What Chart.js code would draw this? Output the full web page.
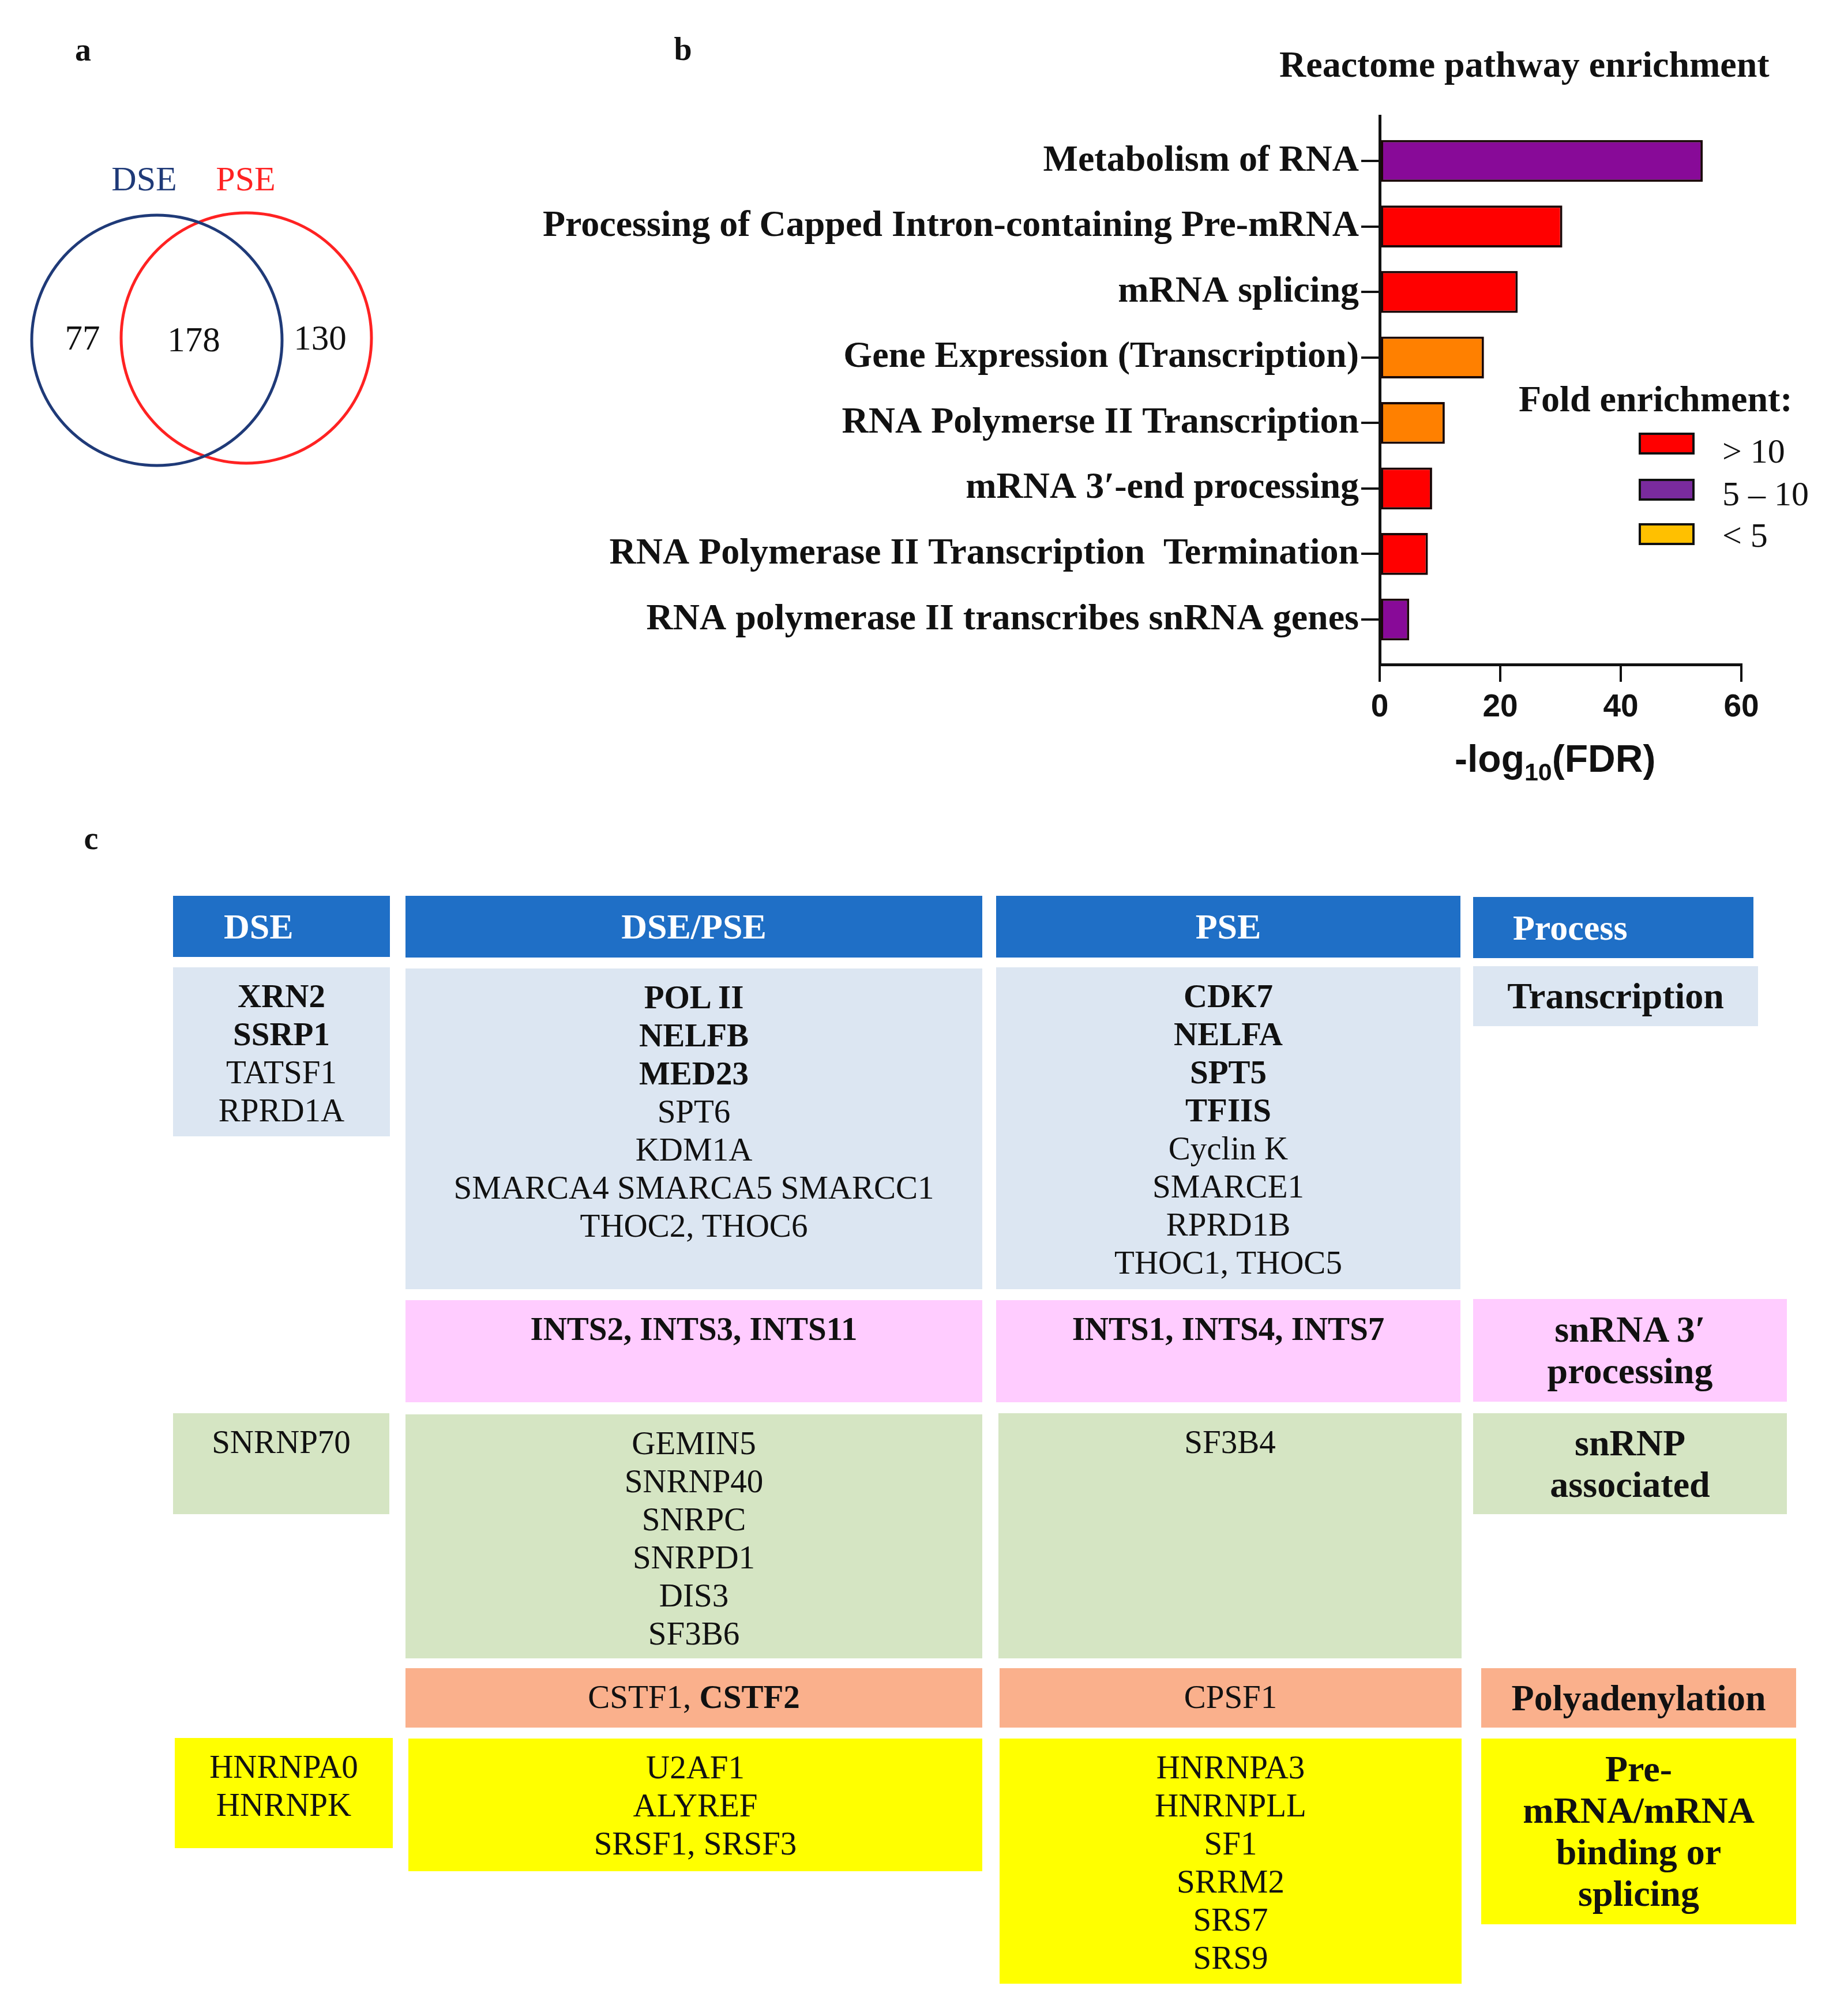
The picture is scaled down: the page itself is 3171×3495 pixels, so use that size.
<!DOCTYPE html>
<html><head><meta charset="utf-8">
<script src="https://cdn.jsdelivr.net/npm/chart.js@4.4.1/dist/chart.umd.min.js"></script>
<style>
html,body{margin:0;padding:0;background:#fff;}
body{width:3171px;height:3495px;position:relative;overflow:hidden;font-family:'Liberation Serif',serif;color:#111;}
.t{position:absolute;white-space:nowrap;line-height:1;}
.c{transform:translate(-50%,-50%);}
.l{transform:translate(0,-50%);}
.cell{position:absolute;box-sizing:border-box;text-align:center;font-size:57px;line-height:66px;padding-top:17px;white-space:nowrap;color:#111;}
.proc{position:absolute;box-sizing:border-box;display:flex;flex-direction:column;align-items:center;justify-content:center;font-weight:bold;font-size:64px;line-height:72px;white-space:nowrap;color:#111;}
.head{position:absolute;box-sizing:border-box;display:flex;align-items:center;font-weight:bold;font-size:62px;color:#fff;background:#1f6fc6;}
canvas{position:absolute;}
</style></head><body>
<div id="root"></div>
<script>
// ---------------- data ----------------
const vennSets = ['DSE', 'PSE'];
const vennCounts = [77, 178, 130]; // DSE only, shared, PSE only

const pathways = [
  'Metabolism of RNA',
  'Processing of Capped Intron-containing Pre-mRNA',
  'mRNA splicing',
  'Gene Expression (Transcription)',
  'RNA Polymerse II Transcription',
  'mRNA 3\u2032-end processing',
  'RNA Polymerase II Transcription  Termination',
  'RNA polymerase II transcribes snRNA genes'
];
const minusLog10FDR = [53.6, 30.3, 22.9, 17.3, 10.8, 8.7, 8.0, 4.9];
const foldClass = ['5-10', '>10', '>10', '<5', '<5', '>10', '>10', '5-10'];
const xTickValues = [0, 20, 40, 60];
const legendClasses = ['>10', '5-10', '<5'];
const legendLabels = ['> 10', '5 \u2013 10', '< 5'];

const tableHeaders = ['DSE', 'DSE/PSE', 'PSE', 'Process'];
const processes = ['Transcription', 'snRNA 3\u2032\nprocessing', 'snRNP\nassociated', 'Polyadenylation', 'Pre-\nmRNA/mRNA\nbinding or\nsplicing'];
const dseGenes = [['*XRN2*', '*SSRP1*', 'TATSF1', 'RPRD1A'], null, ['SNRNP70'], null, ['HNRNPA0', 'HNRNPK']];
const sharedGenes = [
  ['*POL II*', '*NELFB*', '*MED23*', 'SPT6', 'KDM1A', 'SMARCA4 SMARCA5 SMARCC1', 'THOC2, THOC6'],
  ['*INTS2, INTS3, INTS11*'],
  ['GEMIN5', 'SNRNP40', 'SNRPC', 'SNRPD1', 'DIS3', 'SF3B6'],
  ['CSTF1, *CSTF2*'],
  ['U2AF1', 'ALYREF', 'SRSF1, SRSF3']
];
const pseGenes = [
  ['*CDK7*', '*NELFA*', '*SPT5*', '*TFIIS*', 'Cyclin K', 'SMARCE1', 'RPRD1B', 'THOC1, THOC5'],
  ['*INTS1, INTS4, INTS7*'],
  ['SF3B4'],
  ['CPSF1'],
  ['HNRNPA3', 'HNRNPLL', 'SF1', 'SRRM2', 'SRS7', 'SRS9']
];

// ---------------- styles / layout ----------------
const barColors = {'>10': '#ff0000', '5-10': '#880a98', '<5': '#ff8000'};
const legendColors = {'>10': '#ff0000', '5-10': '#7a2b9e', '<5': '#ffc000'};
const rowColors = ['#dce6f2', '#ffccff', '#d5e5c3', '#fab08c', '#ffff00'];
const headerBoxes = [[300,1553,376,106],[703,1553,1000,107],[1727,1553,805,107],[2554,1555,486,106]];
const rowBoxes = [
  [[300,1677,376,293],[703,1679,1000,556],[1727,1677,805,558],[2554,1675,494,104]],
  [null,[703,2254,1000,177],[1727,2254,805,177],[2554,2252,544,178]],
  [[300,2450,375,175],[703,2452,1000,423],[1731,2450,803,425],[2554,2450,544,175]],
  [null,[703,2892,1000,103],[1733,2892,801,103],[2568,2892,546,103]],
  [[303,3013,378,191],[708,3014,995,230],[1733,3014,801,425],[2568,3014,546,322]]
];

const root = document.getElementById('root');
function addText(txt, x, y, cls, style) {
  const d = document.createElement('div');
  d.className = 't ' + cls;
  d.textContent = txt;
  d.style.left = x + 'px'; d.style.top = y + 'px';
  Object.assign(d.style, style || {});
  root.appendChild(d);
  return d;
}
const fmt = s => s.replace(/&/g,'&amp;').replace(/</g,'&lt;').replace(/\*(.+?)\*/g, '<b>$1</b>');

// panel letters
addText('a', 144, 86, 'c', {fontWeight:'bold', fontSize:'56px'});
addText('b', 1184, 85, 'c', {fontWeight:'bold', fontSize:'56px'});
addText('c', 158, 1453, 'c', {fontWeight:'bold', fontSize:'56px'});

// ---------------- Venn (Chart.js scatter) ----------------
const vennCanvas = document.createElement('canvas');
vennCanvas.width = 720; vennCanvas.height = 560;
vennCanvas.style.left = '0px'; vennCanvas.style.top = '300px';
root.appendChild(vennCanvas);
const vennCenters = [[272, 290], [427, 286]];
const vennStroke = ['#1f3a78', '#ff2222'];
new Chart(vennCanvas, {
  type: 'scatter',
  data: { datasets: vennSets.map((s, i) => ({
    label: s,
    data: [{x: vennCenters[i][0], y: vennCenters[i][1]}],
    pointRadius: 217, pointHoverRadius: 217,
    pointBackgroundColor: 'rgba(0,0,0,0)',
    pointBorderColor: vennStroke[i], pointBorderWidth: 5,
    clip: false
  }))},
  options: {
    responsive: false, animation: false, devicePixelRatio: 1,
    layout: {padding: 0, autoPadding: false},
    plugins: {legend: {display: false}, tooltip: {enabled: false}},
    scales: {
      x: {type: 'linear', min: 0, max: 720, display: false},
      y: {type: 'linear', min: 0, max: 560, reverse: true, display: false}
    }
  }
});
addText(vennSets[0], 250, 310, 'c', {fontSize:'60px', color:'#1f3a78'});
addText(vennSets[1], 426, 310, 'c', {fontSize:'60px', color:'#ff2222'});
const vennNumPos = [[143, 585], [336, 588], [555, 585]];
vennCounts.forEach((v, i) => addText(String(v), vennNumPos[i][0], vennNumPos[i][1], 'c', {fontSize:'61px'}));

// ---------------- Bar chart ----------------
addText('Reactome pathway enrichment', 2218, 112, 'l', {fontWeight:'bold', fontSize:'64px'});
const barCanvas = document.createElement('canvas');
barCanvas.width = 2271; barCanvas.height = 1300;
barCanvas.style.left = '900px'; barCanvas.style.top = '150px';
root.appendChild(barCanvas);
new Chart(barCanvas, {
  type: 'bar',
  data: { datasets: [{
    data: minusLog10FDR.map((v, i) => ({x: v, y: i})),
    backgroundColor: foldClass.map(c => barColors[c]),
    borderColor: '#1a0808', borderWidth: 4, borderSkipped: false,
    barPercentage: 0.8, categoryPercentage: 0.8
  }]},
  options: {
    indexAxis: 'y', responsive: false, animation: false, devicePixelRatio: 1,
    layout: {padding: {top: 51, right: 152, left: 0, bottom: 0}, autoPadding: false},
    plugins: {legend: {display: false}, tooltip: {enabled: false}},
    scales: {
      x: {
        type: 'linear', min: 0, max: 60,
        afterBuildTicks: s => { s.ticks = xTickValues.map(v => ({value: v})); },
        afterFit: s => { s.height = 298; s.paddingLeft = 0; s.paddingRight = 0; },
        ticks: {font: {family: 'Liberation Sans', weight: 'bold', size: 55}, color: '#111', padding: 12, maxRotation: 0},
        grid: {display: true, drawOnChartArea: false, drawTicks: true, tickLength: 30, color: '#111', lineWidth: 4},
        border: {display: true, color: '#111', width: 5}
      },
      y: {
        type: 'linear', min: -0.687, max: 7.687, reverse: true, offset: false,
        afterBuildTicks: s => { s.ticks = pathways.map((_, i) => ({value: i})); },
        afterFit: s => { s.width = 1492; s.paddingTop = 0; s.paddingBottom = 0; },
        ticks: {autoSkip: false, callback: v => pathways[v], font: {family: 'Liberation Serif', weight: 'bold', size: 64}, color: '#111', padding: 4},
        grid: {display: true, offset: false, drawOnChartArea: false, drawTicks: true, tickLength: 32, color: '#111', lineWidth: 4},
        border: {display: true, color: '#111', width: 5}
      }
    }
  }
});
// x-axis title with subscript
const xt = addText('', 2522, 1315, 'l', {fontFamily:'Liberation Sans', fontWeight:'bold', fontSize:'66px'});
xt.innerHTML = '-log<sub style="font-size:43px;vertical-align:-15px;line-height:0">10</sub>(FDR)';

// legend
addText('Fold enrichment:', 2633, 692, 'l', {fontWeight:'bold', fontSize:'64px'});
const legTops = [750, 830, 907];
const legLabelY = [782, 856, 928];
legendClasses.forEach((c, i) => {
  const b = document.createElement('div');
  Object.assign(b.style, {position:'absolute', left:'2841px', top: legTops[i]+'px', width:'97px', height:'38px',
    boxSizing:'border-box', border:'4px solid #111', background: legendColors[c]});
  root.appendChild(b);
  addText(legendLabels[i], 2986, legLabelY[i], 'l', {fontSize:'60px'});
});

// ---------------- Table (panel c) ----------------
headerBoxes.forEach((bx, i) => {
  const d = document.createElement('div');
  d.className = 'head';
  Object.assign(d.style, {left: bx[0]+'px', top: bx[1]+'px', width: bx[2]+'px', height: bx[3]+'px'});
  if (i === 0) d.style.paddingLeft = '88px';
  else if (i === 3) d.style.paddingLeft = '69px';
  else d.style.justifyContent = 'center';
  d.textContent = tableHeaders[i];
  root.appendChild(d);
});
const geneCols = [dseGenes, sharedGenes, pseGenes];
rowBoxes.forEach((row, r) => {
  row.forEach((bx, col) => {
    if (!bx) return;
    const d = document.createElement('div');
    Object.assign(d.style, {left: bx[0]+'px', top: bx[1]+'px', width: bx[2]+'px', height: bx[3]+'px', background: rowColors[r]});
    if (col < 3) {
      d.className = 'cell';
      const lines = geneCols[col][r] || [];
      d.innerHTML = lines.map(fmt).join('<br>');
    } else {
      d.className = 'proc';
      processes[r].split('\n').forEach(line => {
        const s = document.createElement('div'); s.textContent = line; d.appendChild(s);
      });
    }
    root.appendChild(d);
  });
});
</script>
</body></html>
